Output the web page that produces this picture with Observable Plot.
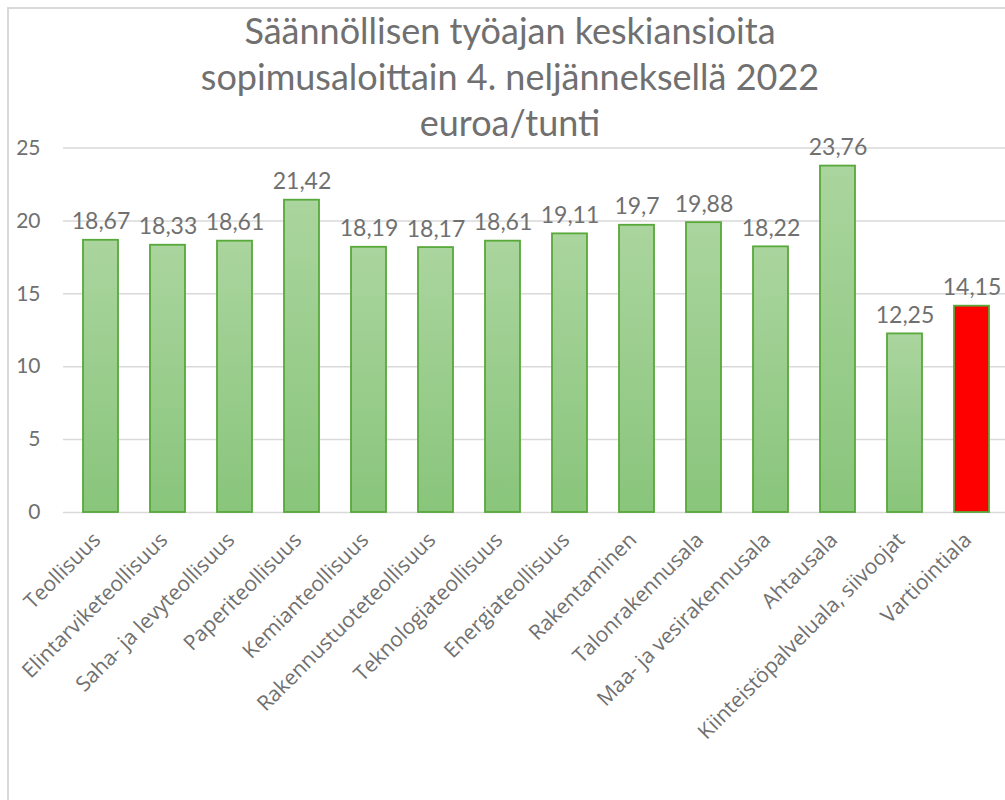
<!DOCTYPE html>
<html>
<head>
<meta charset="utf-8">
<script src="https://cdn.jsdelivr.net/npm/d3@7"></script>
<script src="https://cdn.jsdelivr.net/npm/@observablehq/plot@0.6"></script>
<style>
  html, body { margin: 0; padding: 0; background: #fff; overflow: hidden; }
  #wrap { position: relative; width: 1005px; height: 800px; }
  #frame { position: absolute; left: 7px; top: 7px; width: 2000px; height: 2000px;
           border-left: 2px solid #d9d9d9; border-top: 2px solid #d9d9d9; pointer-events: none; }
  #title { position: absolute; left: 0; width: 1020px; top: 7px; text-align: center;
           font-family: Lato, sans-serif; font-size: 36px; line-height: 46px; color: #707070; }
  #chart { position: absolute; left: 0; top: 0; }
</style>
</head>
<body>
<div id="wrap">
  <div id="title">Säännöllisen työajan keskiansioita<br>sopimusaloittain 4. neljänneksellä 2022<br>euroa/tunti</div>
  <div id="chart"></div>
  <div id="frame"></div>
</div>
<script>
const categories = ["Teollisuus","Elintarviketeollisuus","Saha- ja levyteollisuus","Paperiteollisuus","Kemianteollisuus","Rakennustuoteteollisuus","Teknologiateollisuus","Energiateollisuus","Rakentaminen","Talonrakennusala","Maa- ja vesirakennusala","Ahtausala","Kiinteistöpalveluala, siivoojat","Vartiointiala"];
const values = [18.67,18.33,18.61,21.42,18.19,18.17,18.61,19.11,19.7,19.88,18.22,23.76,12.25,14.15];
const highlighted = ["Vartiointiala"];
const yTicks = [0,5,10,15,20,25];

const data = categories.map((c, i) => ({cat: c, value: values[i]}));
const fmt = v => String(v).replace(".", ",");

const defs = () => {
  const ns = "http://www.w3.org/2000/svg";
  const d = document.createElementNS(ns, "defs");
  const g = document.createElementNS(ns, "linearGradient");
  g.setAttribute("id", "greenGrad");
  g.setAttribute("x1", "0"); g.setAttribute("y1", "0");
  g.setAttribute("x2", "0"); g.setAttribute("y2", "1");
  const s1 = document.createElementNS(ns, "stop");
  s1.setAttribute("offset", "0"); s1.setAttribute("stop-color", "#aad59e");
  const s2 = document.createElementNS(ns, "stop");
  s2.setAttribute("offset", "1"); s2.setAttribute("stop-color", "#89c57b");
  g.appendChild(s1); g.appendChild(s2); d.appendChild(g);
  return d;
};

const chart = Plot.plot({
  width: 1005,
  height: 800,
  marginLeft: 63,
  marginRight: 0,
  marginTop: 147.5,
  marginBottom: 288,
  style: {background: "transparent", fontFamily: "Lato, sans-serif", overflow: "visible"},
  x: {domain: categories, range: [63.75, 1008.75], paddingInner: 0.48, paddingOuter: 0.24, label: null},
  y: {domain: [0, 25], label: null},
  color: {type: "identity"},
  marks: [
    defs,
    Plot.gridY(yTicks, {stroke: "#d9d9d9", strokeOpacity: 1, strokeWidth: 1.5}),
    Plot.barY(data, {
      x: "cat", y: "value",
      fill: d => highlighted.includes(d.cat) ? "#ff0000" : "url(#greenGrad)",
      stroke: "#58a83a", strokeWidth: 1.8
    }),
    Plot.text(data, {
      x: "cat", y: "value", text: d => fmt(d.value),
      lineAnchor: "bottom", dy: -11, fontSize: 23, fill: "#707070", fontFamily: "Lato, sans-serif"
    }),
    Plot.axisY(yTicks, {tickSize: 0, tickPadding: 23, fontSize: 21, fill: "#707070", fontFamily: "Lato, sans-serif"}),
    Plot.axisX({tickRotate: -45, tickSize: 0, tickPadding: 24, dx: -4, fontSize: 21, fill: "#707070", fontFamily: "'Open Sans', sans-serif"})
  ]
});
document.getElementById("chart").appendChild(chart);
</script>
</body>
</html>
